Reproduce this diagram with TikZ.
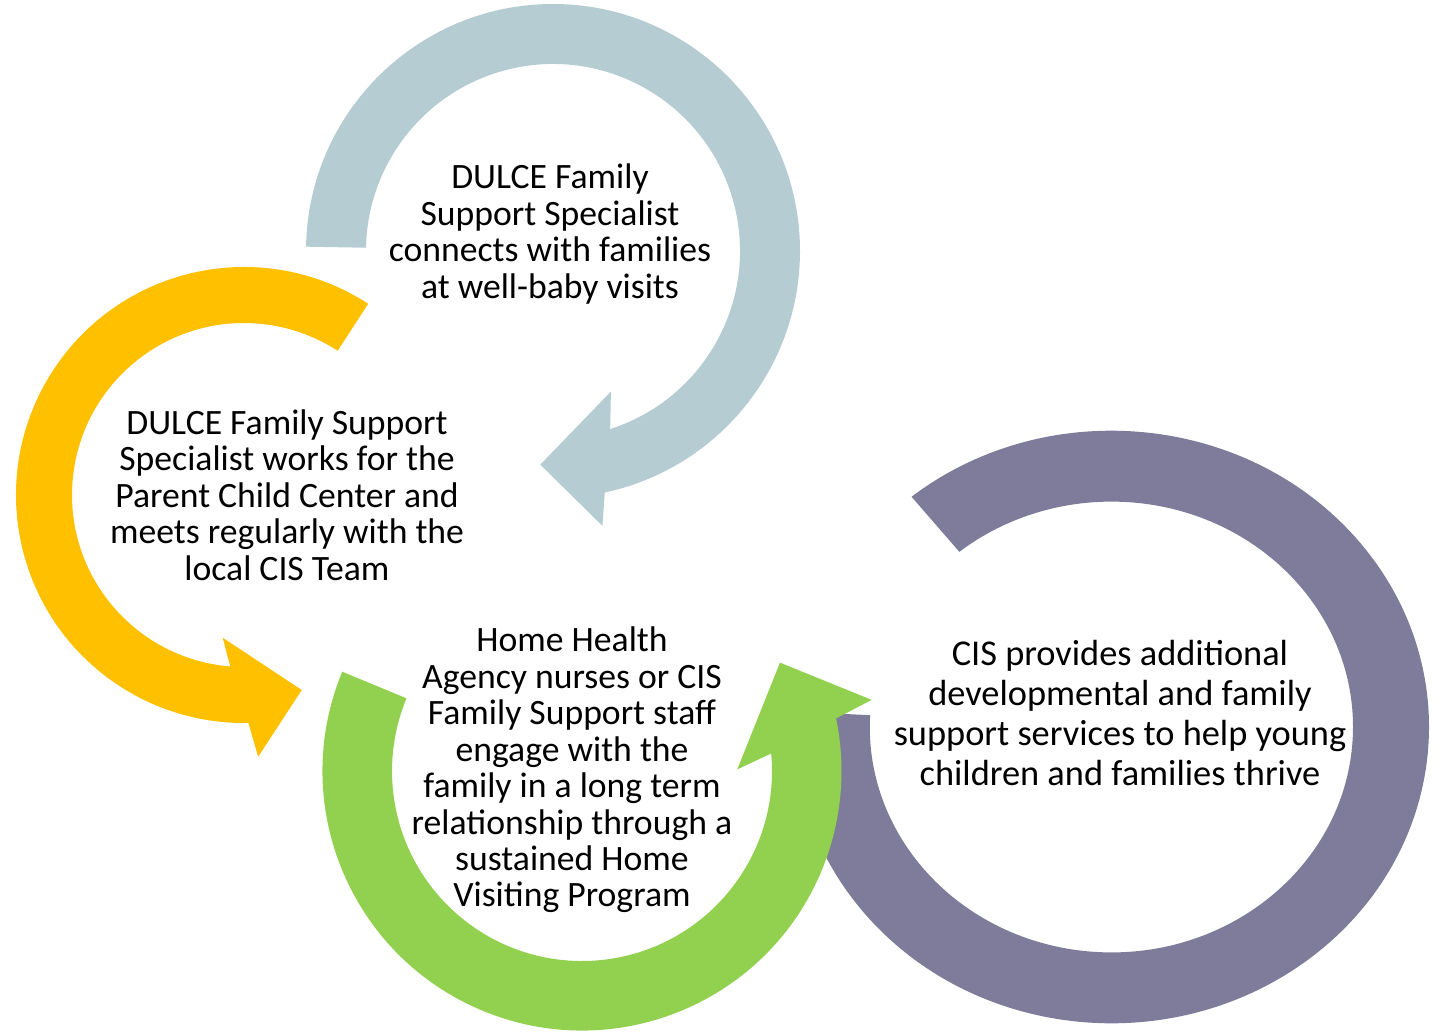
\documentclass[tikz,border=0pt]{standalone}
\usepackage{fontspec}
\setmainfont{Carlito}
\definecolor{bandblue}{RGB}{181,204,211}
\definecolor{bandgold}{RGB}{255,192,0}
\definecolor{bandgreen}{RGB}{146,208,80}
\definecolor{bandpurple}{RGB}{127,124,155}

\begin{document}
\begin{tikzpicture}[x=0.02cm, y=-0.02cm,
  band/.style={draw=none},
  txt/.style={align=center, inner sep=0pt, font=\fontsize{20.3}{20.75}\selectfont},
  txtwide/.style={txt, font=\fontsize{20.7}{22.7}\selectfont}]
  \useasboundingbox (0,0) rectangle (1445,1032);

  % top ring: clockwise from the left, head at the bottom
  \fill[band, bandblue, shift={(553,251)}]
    (181:247) arc[start angle=181, end angle=437.9, radius=247]
    -- (439.8:279.3) -- (453.4:214) -- (427.6:152) -- (432.2:187)
    arc[start angle=432.2, end angle=181, radius=187] -- cycle;

  % left ring: anticlockwise from the top right
  \fill[band, bandgold, shift={(244,495)}]
    (-57:228) arc[start angle=-57, end angle=-271.1, radius=228]
    -- (86.9:262.1) -- (73.5:203.4) -- (98.5:144.3) -- (94.6:172)
    arc[start angle=-265.4, end angle=-57, radius=172] -- cycle;

  % right ring, slightly wider than tall, no head
  \fill[band, bandpurple, shift={(1111.4,727)}]
    (-129:317.6 and 296.3)
    arc[start angle=-129, end angle=183, x radius=317.6, y radius=296.3]
    -- (183:241.6 and 225.4)
    arc[start angle=183, end angle=-129, x radius=241.6, y radius=225.4] -- cycle;

  % bottom ring, drawn last so its head sits over the purple one
  \fill[band, bandgreen, shift={(582,771)}]
    (202.5:259.5) arc[start angle=202.5, end angle=-11.7, radius=259.5]
    -- (-13.8:298.3) -- (-28.7:225.7) -- (-0.6:155.3) -- (-5.3:190)
    arc[start angle=-5.3, end angle=202.5, radius=190] -- cycle;

  \node[txt] (visits) at (550,234) {DULCE Family\\Support Specialist\\connects with families\\at well-baby visits};
  \node[txt] (pcc) at (287,495) {DULCE Family Support\\Specialist works for the\\Parent Child Center and\\meets regularly with the\\local CIS Team};
  \node[txt] (homevisit) at (572,770) {Home Health\\Agency nurses or CIS\\Family Support staff\\engage with the\\family in a long term\\relationship through a\\sustained Home\\Visiting Program};
  \node[txtwide] (cis) at (1120,713) {CIS provides additional\\developmental and family\\support services to help young\\children and families thrive};
\end{tikzpicture}
\end{document}
